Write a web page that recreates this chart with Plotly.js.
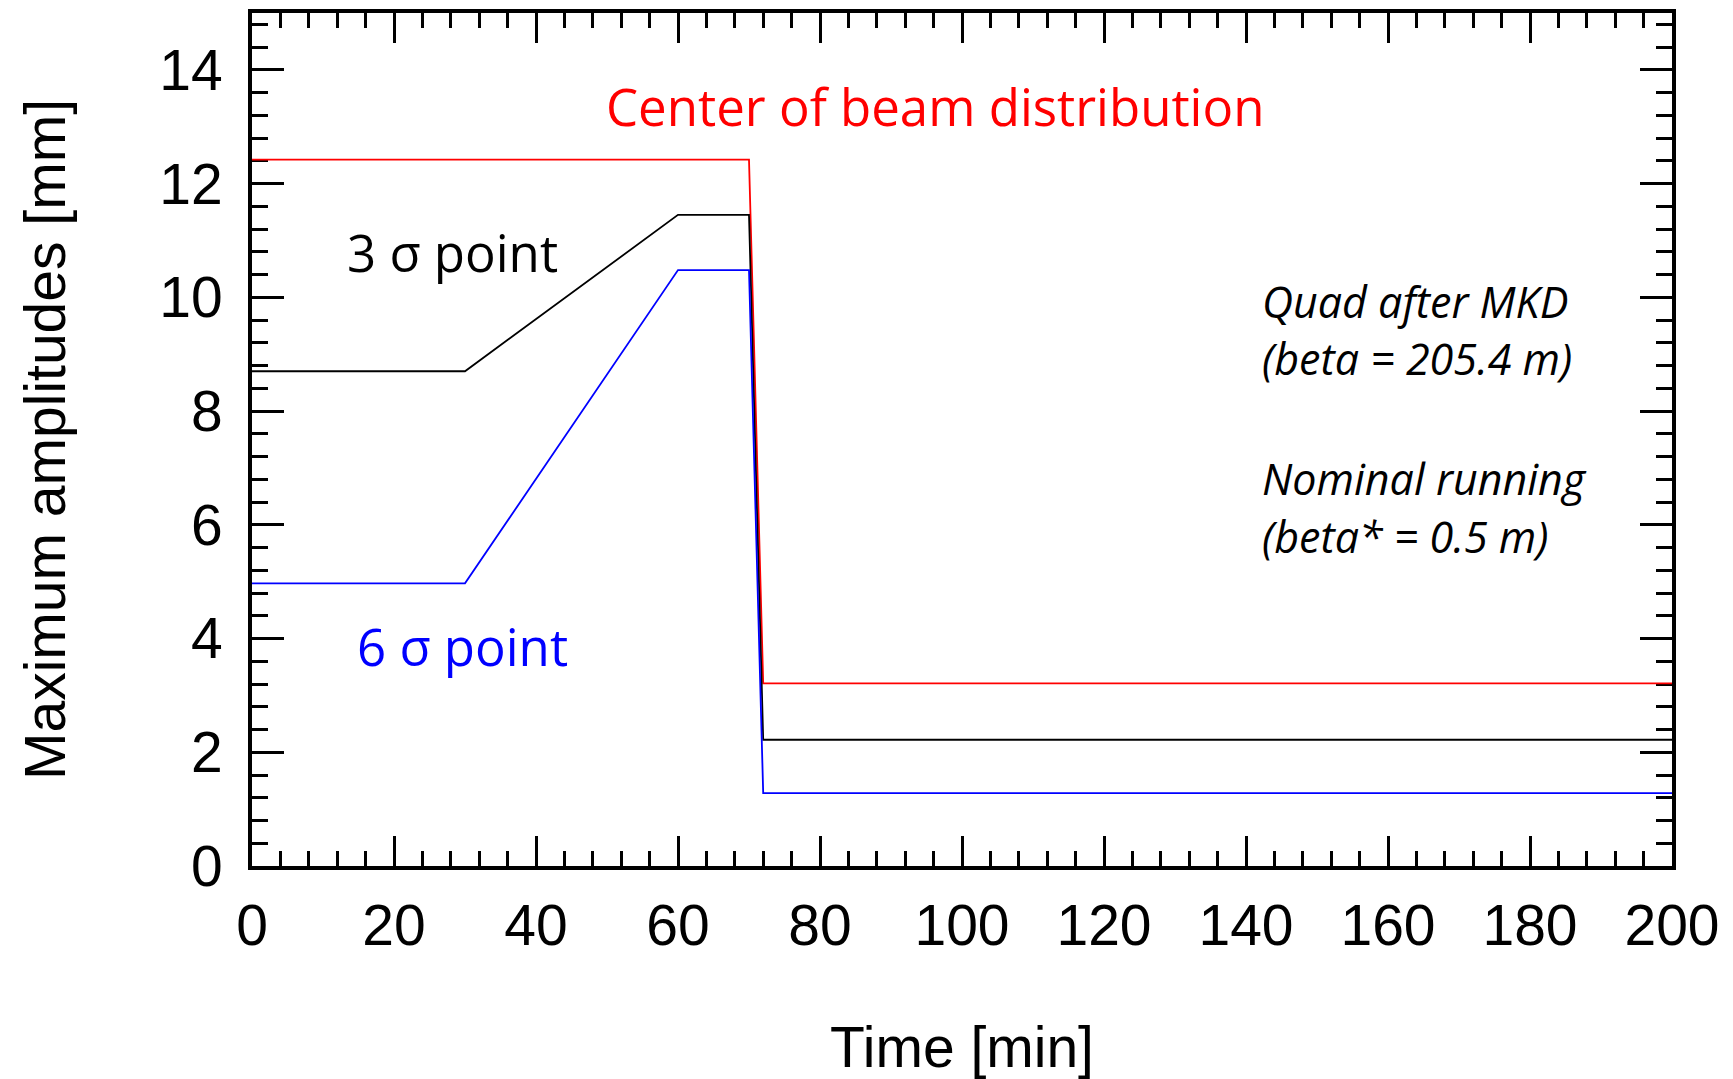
<!DOCTYPE html>
<html>
<head>
<meta charset="utf-8">
<script src="https://cdn.plot.ly/plotly-3.0.1.min.js"></script>
<style>
  html, body { margin: 0; padding: 0; background: #ffffff; }
  #chart { width: 1733px; height: 1079px; }
</style>
</head>
<body>
<div id="chart"></div>
<script>
// Time axis (minutes)
const time = [0, 30, 60, 70, 72, 200];
// Maximum amplitudes [mm]
const centerBeam = [12.42, 12.42, 12.42, 12.42, 3.21, 3.21];
const sigma3 = [8.70, 8.70, 11.45, 11.45, 2.22, 2.22];
const sigma6 = [4.97, 4.97, 10.48, 10.48, 1.28, 1.28];

const xTickVals = [0, 20, 40, 60, 80, 100, 120, 140, 160, 180, 200];
const yTickVals = [0, 2, 4, 6, 8, 10, 12, 14];

const labelCenter = 'Center of beam distribution';
const label3 = '3 σ point';
const label6 = '6 σ point';
const note1 = ['Quad after MKD', '(beta = 205.4 m)'];
const note2 = ['Nominal running', '(beta* = 0.5 m)'];

const traces = [
  { x: time, y: centerBeam, mode: 'lines', line: { color: '#ff0000', width: 1.8 }, name: 'center', hoverinfo: 'skip' },
  { x: time, y: sigma3, mode: 'lines', line: { color: '#000000', width: 1.8 }, name: '3 sigma', hoverinfo: 'skip' },
  { x: time, y: sigma6, mode: 'lines', line: { color: '#0000ff', width: 1.8 }, name: '6 sigma', hoverinfo: 'skip' }
];

const tickFont = { family: 'Liberation Sans, Arial, sans-serif', size: 57, color: '#000' };
const labelFont = (c) => ({ family: 'Open Sans, sans-serif', size: 51, color: c });
const italicFont = { family: 'Open Sans, sans-serif', size: 43, color: '#000', style: 'italic' };

const annotations = [
  { x: 96.2, y: 13.37, text: labelCenter, font: labelFont('#ff0000'), xanchor: 'center', yanchor: 'middle' },
  { x: 28.2, y: 10.8, text: label3, font: labelFont('#000000'), xanchor: 'center', yanchor: 'middle' },
  { x: 29.7, y: 3.86, text: label6, font: labelFont('#0000ff'), xanchor: 'center', yanchor: 'middle' },
  { x: 142.0, y: 9.93, text: note1[0], font: italicFont, xanchor: 'left', yanchor: 'middle' },
  { x: 142.0, y: 8.92, text: note1[1], font: italicFont, xanchor: 'left', yanchor: 'middle' },
  { x: 142.0, y: 6.82, text: note2[0], font: italicFont, xanchor: 'left', yanchor: 'middle' },
  { x: 142.0, y: 5.80, text: note2[1], font: italicFont, xanchor: 'left', yanchor: 'middle' }
].map(a => Object.assign({ xref: 'x', yref: 'y', showarrow: false }, a));

const layout = {
  width: 1733, height: 1079,
  paper_bgcolor: '#ffffff', plot_bgcolor: '#ffffff',
  showlegend: false,
  margin: { l: 252, r: 61, t: 13, b: 213, pad: 0 },
  xaxis: {
    range: [0, 200], tickvals: xTickVals, ticktext: xTickVals.map(String),
    showgrid: false, zeroline: false, layer: 'below traces',
    showline: true, linecolor: '#000', linewidth: 4, mirror: 'allticks',
    ticks: 'inside', ticklen: 30, tickwidth: 3, tickcolor: '#000',
    minor: { dtick: 4, ticks: 'inside', ticklen: 15, tickwidth: 3, tickcolor: '#000', showgrid: false },
    tickfont: tickFont, ticklabelstandoff: 7,
    title: { text: 'Time [min]', font: tickFont, standoff: 72 }
  },
  yaxis: {
    range: [0, 15], tickvals: yTickVals, ticktext: yTickVals.map(String),
    showgrid: false, zeroline: false, layer: 'below traces',
    showline: true, linecolor: '#000', linewidth: 4, mirror: 'allticks',
    ticks: 'inside', ticklen: 32, tickwidth: 3, tickcolor: '#000',
    minor: { dtick: 0.4, tick0: 0, ticks: 'inside', ticklen: 16, tickwidth: 3, tickcolor: '#000', showgrid: false },
    tickfont: tickFont, ticklabelstandoff: 14,
    title: { text: 'Maximum amplitudes [mm]', font: tickFont, standoff: 76 }
  },
  annotations: annotations
};

Plotly.newPlot('chart', traces, layout, { displayModeBar: false, staticPlot: true });
</script>
</body>
</html>
